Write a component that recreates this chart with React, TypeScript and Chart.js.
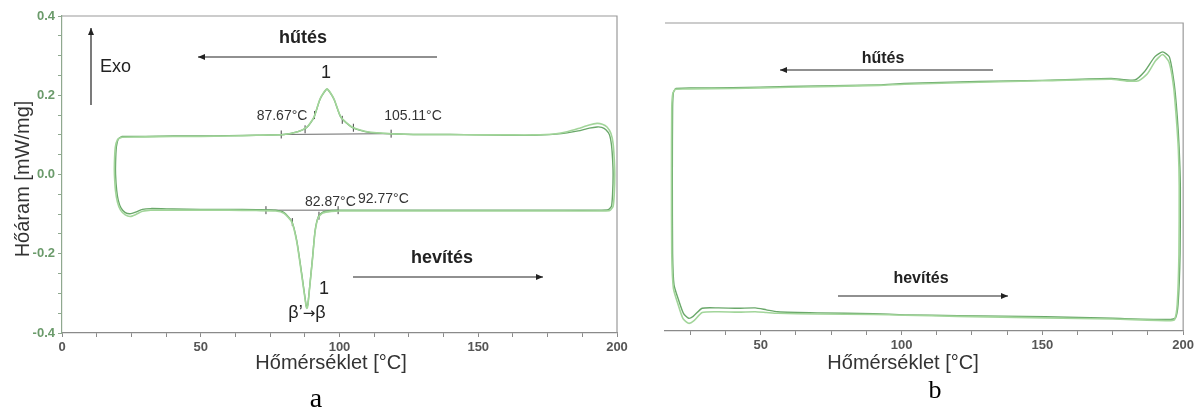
import React, { useEffect, useRef } from 'react';
import { Chart, registerables } from 'chart.js';
Chart.register(...registerables);

// ---------- Panel a: DSC loop (temperature °C, heat flow mW/mg) ----------
const aLoop1T = [21.5, 20.3, 19.6, 19.3, 19.3, 19.7, 20.3, 21.3, 22.8, 24.5, 26.5, 29, 32, 40, 50, 60, 70, 77, 80, 82.8, 84.6, 86.4, 87.9, 88.2, 88.6, 89.1, 90.3, 91.2, 92.4, 94, 97, 100, 120, 140, 160, 180, 194, 196.8, 198, 198.4, 198.6, 198.4, 198.0, 197.3, 196, 194.5, 192.8, 190, 186, 182, 178, 170, 160, 150, 140, 130, 118.6, 110, 104.5, 100.5, 98, 95.5, 93, 90.8, 88.3, 85, 80, 70, 60, 50, 40, 30, 21.5];
const aLoop1Q = [0.096, 0.090, 0.070, 0.030, 0.000, -0.040, -0.066, -0.085, -0.096, -0.099, -0.095, -0.088, -0.086, -0.087, -0.088, -0.088, -0.089, -0.090, -0.096, -0.118, -0.167, -0.251, -0.327, -0.336, -0.328, -0.294, -0.209, -0.142, -0.106, -0.095, -0.091, -0.090, -0.090, -0.090, -0.090, -0.090, -0.090, -0.089, -0.080, -0.050, 0.000, 0.040, 0.075, 0.100, 0.113, 0.119, 0.120, 0.117, 0.110, 0.105, 0.102, 0.099, 0.099, 0.100, 0.101, 0.101, 0.103, 0.107, 0.119, 0.144, 0.190, 0.215, 0.190, 0.144, 0.119, 0.108, 0.101, 0.099, 0.098, 0.097, 0.097, 0.096, 0.096];
const aLoop2T = [21.5, 20.0, 19.2, 18.9, 18.9, 19.3, 20.0, 21.1, 22.8, 24.6, 26.6, 29, 32, 40, 50, 60, 70, 77, 80, 82.8, 84.6, 86.4, 87.9, 88.2, 88.6, 89.1, 90.3, 91.2, 92.4, 94, 97, 100, 120, 140, 160, 180, 194, 197.4, 198.6, 199.0, 199.2, 199.0, 198.6, 197.8, 196.4, 194.7, 192.8, 190, 186, 182, 178, 170, 160, 150, 140, 130, 118.6, 110, 104.5, 100.5, 98, 95.5, 93, 90.8, 88.3, 85, 80, 70, 60, 50, 40, 30, 21.5];
const aLoop2Q = [0.094, 0.088, 0.068, 0.030, 0.000, -0.042, -0.070, -0.090, -0.102, -0.106, -0.101, -0.093, -0.090, -0.090, -0.090, -0.090, -0.091, -0.092, -0.098, -0.120, -0.170, -0.255, -0.330, -0.338, -0.330, -0.296, -0.211, -0.144, -0.108, -0.097, -0.093, -0.092, -0.092, -0.092, -0.092, -0.092, -0.092, -0.091, -0.080, -0.050, 0.000, 0.040, 0.078, 0.104, 0.120, 0.127, 0.129, 0.125, 0.116, 0.108, 0.103, 0.100, 0.100, 0.100, 0.101, 0.101, 0.103, 0.108, 0.120, 0.145, 0.191, 0.216, 0.191, 0.145, 0.120, 0.108, 0.101, 0.099, 0.097, 0.096, 0.096, 0.095, 0.094];
const aMarkT = [79, 87.6, 91, 101, 105, 118.6, 73.5, 83, 92.6, 99.5];
const aMarkQ = [0.101, 0.114, 0.150, 0.138, 0.118, 0.103, -0.090, -0.120, -0.104, -0.090];
const aBaseTopT = [79, 118.6];
const aBaseTopQ = [0.101, 0.103];
const aBaseBotT = [73.5, 99.5];
const aBaseBotQ = [-0.090, -0.090];
const aYTickLabels = [-0.4, -0.2, 0.0, 0.2, 0.4];

// ---------- Panel b: DSC loop (temperature °C, arbitrary heat flow) ----------
const bLoop1T = [19.8, 19.0, 18.7, 18.6, 18.7, 19.2, 20.8, 22.6, 24.4, 26, 29.2, 35, 42, 48, 52, 56, 70, 90, 101, 120, 151, 175, 195.6, 197.3, 198.2, 198.9, 199, 198.6, 197.9, 196.8, 195.1, 192.7, 189.9, 186.3, 182.8, 174.4, 150, 127.4, 101, 92, 60, 40, 25, 19.8];
const bLoop1Q = [0.230, 0.220, 0.180, 0.000, -0.200, -0.280, -0.319, -0.355, -0.367, -0.362, -0.341, -0.340, -0.341, -0.340, -0.345, -0.350, -0.353, -0.355, -0.358, -0.360, -0.363, -0.367, -0.370, -0.366, -0.330, -0.200, -0.025, 0.070, 0.157, 0.243, 0.312, 0.325, 0.312, 0.274, 0.252, 0.256, 0.251, 0.248, 0.243, 0.239, 0.235, 0.232, 0.231, 0.230];
const bLoop2T = [19.6, 18.8, 18.4, 18.3, 18.4, 19.0, 20.6, 22.4, 24.4, 26.2, 29.2, 35, 42, 48, 52, 56, 70, 90, 101, 120, 151, 175, 195.6, 197.0, 197.9, 198.5, 198.6, 198.3, 197.6, 196.6, 195.0, 192.7, 190.2, 187.3, 184.2, 180, 174.4, 150, 127.4, 101, 92, 60, 40, 25, 19.6];
const bLoop2Q = [0.228, 0.218, 0.180, 0.000, -0.200, -0.290, -0.330, -0.368, -0.380, -0.374, -0.352, -0.350, -0.351, -0.350, -0.352, -0.354, -0.356, -0.357, -0.359, -0.362, -0.366, -0.369, -0.373, -0.370, -0.330, -0.200, -0.025, 0.070, 0.150, 0.235, 0.298, 0.318, 0.302, 0.268, 0.250, 0.249, 0.254, 0.250, 0.246, 0.241, 0.238, 0.233, 0.230, 0.229, 0.228];

const xTickLabels = [0, 50, 100, 150, 200];

const SANS = '"Liberation Sans", Arial, sans-serif';
const DEJAVU = '"DejaVu Sans", sans-serif';
const SERIF = '"Liberation Serif", "Times New Roman", serif';
const GREEN1 = '#6aa86a';
const GREEN2 = '#a2d59a';

const pts = (xs: number[], ys: number[]) => xs.map((x, i) => ({ x, y: ys[i] }));

function arrow(ctx: CanvasRenderingContext2D, x1: number, y1: number, x2: number, y2: number) {
  ctx.save();
  ctx.strokeStyle = '#222';
  ctx.fillStyle = '#222';
  ctx.lineWidth = 1.2;
  ctx.beginPath();
  ctx.moveTo(x1, y1);
  ctx.lineTo(x2, y2);
  ctx.stroke();
  const a = Math.atan2(y2 - y1, x2 - x1);
  const L = 7, W = 3;
  ctx.beginPath();
  ctx.moveTo(x2, y2);
  ctx.lineTo(x2 - L * Math.cos(a) + W * Math.sin(a), y2 - L * Math.sin(a) - W * Math.cos(a));
  ctx.lineTo(x2 - L * Math.cos(a) - W * Math.sin(a), y2 - L * Math.sin(a) + W * Math.cos(a));
  ctx.closePath();
  ctx.fill();
  ctx.restore();
}

function txt(ctx: CanvasRenderingContext2D, s: string, x: number, y: number, font: string, align: CanvasTextAlign = 'center', color = '#222') {
  ctx.save();
  ctx.font = font;
  ctx.fillStyle = color;
  ctx.textAlign = align;
  ctx.textBaseline = 'alphabetic';
  ctx.fillText(s, x, y);
  ctx.restore();
}

// text made of pieces in different fonts, centred on cx
function pieces(ctx: CanvasRenderingContext2D, parts: [string, string][], cx: number, y: number, color = '#222') {
  ctx.save();
  ctx.fillStyle = color;
  ctx.textBaseline = 'alphabetic';
  ctx.textAlign = 'left';
  const widths = parts.map(([s, f]) => { ctx.font = f; return ctx.measureText(s).width; });
  let x = cx - widths.reduce((a, b) => a + b, 0) / 2;
  parts.forEach(([s, f], i) => { ctx.font = f; ctx.fillText(s, x, y); x += widths[i]; });
  ctx.restore();
}

function frame(ctx: CanvasRenderingContext2D, area: any) {
  ctx.save();
  ctx.strokeStyle = '#9a9a9a';
  ctx.lineWidth = 1.2;
  ctx.beginPath();
  ctx.moveTo(area.left, area.top);
  ctx.lineTo(area.right, area.top);
  ctx.lineTo(area.right, area.bottom);
  ctx.stroke();
  ctx.restore();
}

const annotA = {
  id: 'annotA',
  afterDraw(chart: any) {
    const ctx = chart.ctx as CanvasRenderingContext2D;
    frame(ctx, chart.chartArea);
    ctx.save();
    ctx.translate(22, 179);
    ctx.rotate(-Math.PI / 2);
    txt(ctx, 'Hőáram [mW/mg]', 0, 7, `20px ${SANS}`, 'center', '#333');
    ctx.restore();
    txt(ctx, 'Hőmérséklet [°C]', 331, 369, `20px ${SANS}`, 'center', '#333');
    txt(ctx, 'a', 316, 407, `28px ${SERIF}`, 'center', '#000');
    txt(ctx, 'Exo', 100, 72, `18px ${SANS}`, 'left');
    arrow(ctx, 91, 105, 91, 28);
    txt(ctx, 'hűtés', 303, 43, `bold 18px ${SANS}`);
    arrow(ctx, 437, 57, 198, 57);
    txt(ctx, '1', 326, 78, `18px ${SANS}`);
    txt(ctx, '87.67°C', 282, 120, `14px ${SANS}`, 'center', '#333');
    txt(ctx, '105.11°C', 413, 120, `14px ${SANS}`, 'center', '#333');
    txt(ctx, '82.87°C', 305, 206, `14px ${SANS}`, 'left', '#333');
    txt(ctx, '92.77°C', 358, 203, `14px ${SANS}`, 'left', '#333');
    txt(ctx, 'hevítés', 442, 263, `bold 18px ${SANS}`);
    arrow(ctx, 353, 277, 543, 277);
    txt(ctx, '1', 324, 294, `18px ${SANS}`);
    pieces(ctx, [['β’', `18px ${SANS}`], ['→', `15px ${DEJAVU}`], ['β', `18px ${SANS}`]], 307, 318);
  },
};

const annotB = {
  id: 'annotB',
  afterDraw(chart: any) {
    const ctx = chart.ctx as CanvasRenderingContext2D;
    frame(ctx, chart.chartArea);
    txt(ctx, 'hűtés', 243, 63, `bold 16px ${SANS}`);
    arrow(ctx, 353, 70, 140, 70);
    txt(ctx, 'hevítés', 281, 283, `bold 16px ${SANS}`);
    arrow(ctx, 198, 296, 368, 296);
    txt(ctx, 'Hőmérséklet [°C]', 263, 369, `20px ${SANS}`, 'center', '#333');
    txt(ctx, 'b', 295, 398, `26px ${SERIF}`, 'center', '#000');
  },
};

const loopDs = (data: any[], color: string, width: number) => ({
  data,
  showLine: true,
  borderColor: color,
  borderWidth: width,
  pointRadius: 0,
  tension: 0.2,
  fill: false,
});

const xScale = (min: number, max: number, fromTick: number) => ({
  type: 'linear' as const,
  min,
  max,
  afterBuildTicks: (scale: any) => {
    const t: any[] = [];
    for (let v = fromTick; v <= max + 1e-9; v += 12.5) t.push({ value: v });
    scale.ticks = t;
  },
  afterFit: (scale: any) => { scale.height = 20; },
  border: { display: true, color: '#8a8a8a', width: 1.2 },
  grid: { drawOnChartArea: false, drawTicks: true, tickLength: 4, color: '#8a8a8a' },
  ticks: {
    padding: 3,
    maxRotation: 0,
    autoSkip: false,
    color: '#555',
    font: { family: SANS, size: 13, weight: 'bold' as const },
    callback: (v: any) => (xTickLabels.includes(Number(v)) ? String(v) : ''),
  },
});

export default function App() {
  const refA = useRef<HTMLCanvasElement>(null);
  const refB = useRef<HTMLCanvasElement>(null);

  useEffect(() => {
    document.body.style.margin = '0';
    const chartA = new Chart(refA.current!, {
      type: 'scatter',
      data: {
        datasets: [
          loopDs(pts(aLoop2T, aLoop2Q), GREEN2, 1.6),
          loopDs(pts(aLoop1T, aLoop1Q), GREEN1, 1.4),
          { data: pts(aBaseTopT, aBaseTopQ), showLine: true, borderColor: '#6a6a6a', borderWidth: 1, pointRadius: 0 },
          { data: pts(aBaseBotT, aBaseBotQ), showLine: true, borderColor: '#6a6a6a', borderWidth: 1, pointRadius: 0 },
          { data: pts(aMarkT, aMarkQ), showLine: false, pointStyle: 'line', rotation: 90, pointRadius: 4, borderColor: '#444', borderWidth: 1 },
        ] as any,
      },
      options: {
        animation: false,
        responsive: false,
        events: [],
        layout: { autoPadding: false, padding: { left: 0, top: 16, right: 23, bottom: 57 } },
        plugins: { legend: { display: false }, tooltip: { enabled: false } },
        scales: {
          x: xScale(0, 200, 0),
          y: {
            type: 'linear',
            min: -0.4,
            max: 0.4,
            afterBuildTicks: (scale: any) => {
              const t: any[] = [];
              for (let i = -8; i <= 8; i++) t.push({ value: i * 0.05 });
              scale.ticks = t;
            },
            afterFit: (scale: any) => { scale.width = 62; },
            border: { display: true, color: '#8fa88f', width: 1.2 },
            grid: { drawOnChartArea: false, drawTicks: true, tickLength: 4, color: '#8fa88f' },
            ticks: {
              padding: 3,
              autoSkip: false,
              color: '#6b9b6b',
              font: { family: SANS, size: 13, weight: 'bold' },
              callback: (v: any) => {
                const n = Number(v);
                const hit = aYTickLabels.find((t) => Math.abs(t - n) < 1e-6);
                return hit === undefined ? '' : hit.toFixed(1);
              },
            },
          },
        },
      } as any,
      plugins: [annotA],
    });

    const chartB = new Chart(refB.current!, {
      type: 'scatter',
      data: {
        datasets: [
          loopDs(pts(bLoop2T, bLoop2Q), GREEN2, 1.6),
          loopDs(pts(bLoop1T, bLoop1Q), GREEN1, 1.4),
        ] as any,
      },
      options: {
        animation: false,
        responsive: false,
        events: [],
        layout: { autoPadding: false, padding: { left: 25, top: 23, right: 11, bottom: 59 } },
        plugins: { legend: { display: false }, tooltip: { enabled: false } },
        scales: {
          x: xScale(16, 200, 25),
          y: { type: 'linear', min: -0.4, max: 0.4, display: false },
        },
      } as any,
      plugins: [annotB],
    });

    return () => {
      chartA.destroy();
      chartB.destroy();
    };
  }, []);

  return (
    <div style={{ position: 'relative', width: 1197, height: 410, background: '#fff' }}>
      <canvas ref={refA} width={640} height={410} style={{ position: 'absolute', left: 0, top: 0 }} />
      <canvas ref={refB} width={557} height={410} style={{ position: 'absolute', left: 640, top: 0 }} />
    </div>
  );
}
